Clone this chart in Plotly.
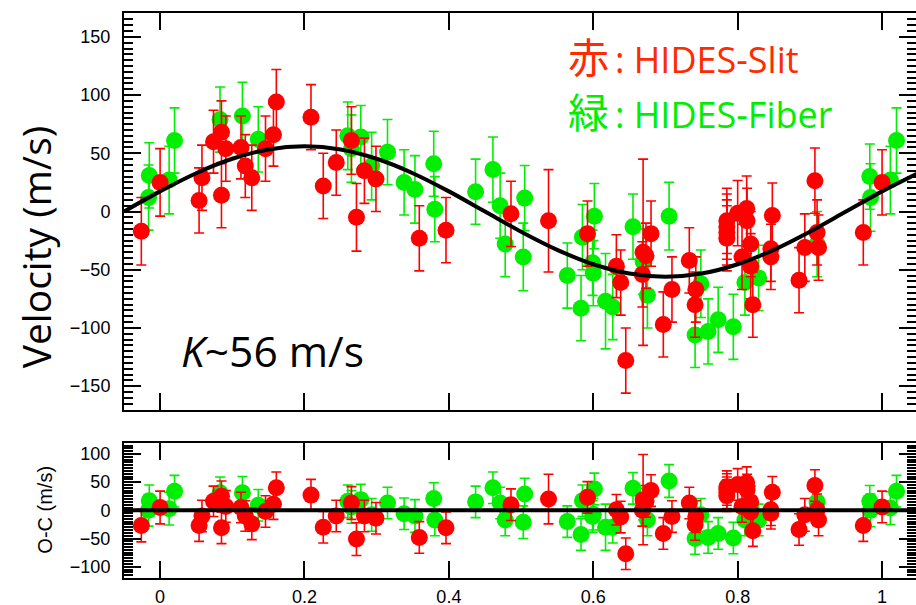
import plotly.graph_objects as go

# ---------------- data ----------------
# HIDES-Slit (red)
red_phase = [-0.026, 0.000, 0.054, 0.058, 0.074, 0.085, 0.085, 0.091, 0.112, 0.118,
             0.127, 0.146, 0.157, 0.161, 0.209, 0.226, 0.244, 0.265, 0.272, 0.283,
             0.299, 0.359, 0.396, 0.486, 0.538, 0.592, 0.632, 0.638, 0.645, 0.669,
             0.673, 0.668, 0.680, 0.697, 0.709, 0.733, 0.742, 0.741, 0.785, 0.785,
             0.785, 0.785, 0.800, 0.8125, 0.813, 0.806, 0.818, 0.818, 0.821, 0.848,
             0.846, 0.846, 0.885, 0.893, 0.907, 0.910, 0.912, 0.974, 1.000]
red_v = [-17, 25, 9.5, 29, 60, 68, 14, 54, 55, 39,
         29, 54, 66, 94, 81, 22, 42, 61, -5, 35,
         28, -23, -16, -2, -8, -19, -47, -61, -128, -35,
         -38, -54, -19, -97, -67, -42, -67, -80, -8, -13,
         -18, -23, -1.4, 2.5, -8, -39, -28, -47, -80, -3.5,
         -32, -39, -59, -31, 26.5, -18, -31, -18, 25]
red_err = [29, 29, 28, 28, 27, 27, 28, 28, 27, 27,
           28, 28, 27, 28, 28, 28, 28, 29, 29, 28,
           28, 28, 28, 28, 44, 28, 27, 28, 28, 80,
           28, 28, 28, 28, 28, 28, 28, 28, 28, 28,
           28, 28, 28, 28, 28, 28, 28, 28, 28, 28,
           28, 28, 28, 29, 28, 28, 28, 28, 28]
red_oc = [-27, 5, -27, -10, 16, 25, -31, 7, 5, -10,
          -24, -2, 11, 40, 27, -30, -10, 13, -51, -10,
          -14, -48, -31, 10, 20, 23, 1, -12, -77, 19,
          16, 0, 35, -41, -11, 13, -11, -25, 42, 37,
          31, 26, 46, 49, 36, 7, 15, -3, -36, 32,
          1, -5, -34, -8, 44, 1, -17, -27, 6]

# HIDES-Fiber (green)
green_phase = [-0.015, -0.016, 0.0125, 0.020, 0.083, 0.114, 0.136, 0.260, 0.278, 0.265,
               0.293, 0.315, 0.338, 0.353, 0.379, 0.3805, 0.437, 0.461, 0.471, 0.478,
               0.505, 0.503, 0.564, 0.583, 0.585, 0.6015, 0.599, 0.600, 0.617, 0.627,
               0.655, 0.675, 0.705, 0.749, 0.741, 0.759, 0.773, 0.794, 0.810, 0.829,
               0.669, 0.910, 0.983, 0.984, 1.0115, 1.020]
green_v = [31, 12, 27, 61, 79, 82, 62, 65, 64, 54,
           39, 51, 25, 19, 41, 2, 17, 36, 5, -28,
           11.5, -39, -55, -83, -22, -4, -44, -53, -77, -82,
           -13, -72, -4, -62, -106, -103, -93, -99, -61, -57,
           -43, -28, 30, 12, 27, 61]
green_err = [28, 28, 29, 28, 28, 29, 28, 29, 27, 29,
             29, 28, 28, 29, 28, 28, 28, 28, 28, 28,
             28, 29, 28, 28, 28, 28, 28, 28, 41, 28,
             28, 28, 29, 29, 28, 28, 28, 28, 28, 28,
             28, 28, 28, 29, 29, 28]
green_oc = [17, 0, 3, 34, 31, 31, 9, 16, 19, 6,
            -8, 13, -6, -10, 21, -17, 15, 40, 13, -17,
            29, -21, -20, -43, 17, 38, -11, -7, -30, -30,
            39, -17, 52, -8, -50, -48, -41, -49, -17, -17,
            11, 15, 16, 0, 4, 34]

# fitted orbit
model_phase = [-0.05, 0.00, 0.05, 0.10, 0.15, 0.20, 0.25, 0.30, 0.35, 0.40, 0.45, 0.50,
               0.55, 0.60, 0.65, 0.70, 0.75, 0.80, 0.85, 0.90, 0.95, 1.00, 1.05]
model_v = [0, 17.3, 32.9, 45.3, 53.3, 56, 53.3, 45.3, 32.9, 17.3, 0, -17.3,
           -32.9, -45.3, -53.3, -56, -53.3, -45.3, -32.9, -17.3, 0, 17.3, 32.9]

x_ticks = [0, 0.2, 0.4, 0.6, 0.8, 1]
x_tick_text = ["0", "0.2", "0.4", "0.6", "0.8", "1"]
y_ticks = [-150, -100, -50, 0, 50, 100, 150]
oc_ticks = [-100, -50, 0, 50, 100]

RED = "#ff0000"
GREEN = "#00ee00"
RED_TXT = "#ff2a00"
GREEN_TXT = "#00ee00"

fig = go.Figure()

def add_series(xs, ys, errs, color, xa, ya):
    fig.add_trace(go.Scatter(
        x=xs, y=ys, mode="markers", xaxis=xa, yaxis=ya,
        marker=dict(color=color, size=17, line=dict(width=0)),
        error_y=dict(type="data", array=errs, visible=True, color=color,
                     thickness=1.6, width=5),
        showlegend=False, hoverinfo="skip"))

# top panel
add_series(green_phase, green_v, green_err, GREEN, "x", "y")
add_series(red_phase, red_v, red_err, RED, "x", "y")
fig.add_trace(go.Scatter(x=model_phase, y=model_v, mode="lines", xaxis="x", yaxis="y",
                         line=dict(color="black", width=4, shape="spline"),
                         showlegend=False, hoverinfo="skip"))
# bottom panel
add_series(green_phase, green_oc, green_err, GREEN, "x2", "y2")
add_series(red_phase, red_oc, red_err, RED, "x2", "y2")

fig.add_shape(type="line", xref="x2 domain", yref="y2", x0=0, x1=1, y0=0, y1=0,
              line=dict(color="black", width=4), layer="above")

TICKFONT = dict(family="Liberation Sans, Arial, sans-serif", size=18, color="black")
common_x = dict(range=[-0.05, 1.047], tickvals=x_ticks, ticktext=x_tick_text,
                ticks="inside", ticklen=17, tickwidth=2, tickcolor="black",
                showline=True, linecolor="black", linewidth=2, mirror="allticks",
                showgrid=False, zeroline=False, tickfont=TICKFONT, automargin=False)
common_y = dict(ticks="inside", ticklen=17, tickwidth=2, tickcolor="black",
                showline=True, linecolor="black", linewidth=2, mirror="allticks",
                showgrid=False, zeroline=False, tickfont=TICKFONT, automargin=False,
                ticklabelstandoff=8,
                minor=dict(ticks="inside", ticklen=9, tickwidth=1.5, tickcolor="black", dtick=5))

fig.update_layout(
    width=916, height=605,
    margin=dict(l=124, r=0, t=13, b=27, autoexpand=False),
    paper_bgcolor="white", plot_bgcolor="white",
    xaxis=dict(domain=[0, 1], anchor="y", showticklabels=False, **common_x),
    yaxis=dict(domain=[0.2973, 1.0], anchor="x", range=[-170.5, 170.5],
               tickvals=y_ticks, **common_y),
    xaxis2=dict(domain=[0, 1], anchor="y2", ticklabelstandoff=1, **common_x),
    yaxis2=dict(domain=[0.0, 0.2395], anchor="x2", range=[-120, 120],
                tickvals=oc_ticks, **common_y),
)

fig.add_annotation(text="Velocity (m/s)", xref="paper", yref="paper",
                   x=-0.1124, y=0.587, xanchor="center", yanchor="middle",
                   textangle=-90, showarrow=False,
                   font=dict(family="Open Sans, sans-serif", size=39, color="black"))
fig.add_annotation(text="O-C (m/s)", xref="paper", yref="paper",
                   x=-0.0997, y=0.121, xanchor="center", yanchor="middle",
                   textangle=-90, showarrow=False,
                   font=dict(family="Liberation Sans, Arial, sans-serif", size=20, color="black"))
fig.add_annotation(text="<i>K</i>~56 m/s", xref="paper", yref="paper",
                   x=0.0694, y=0.4035, xanchor="left", yanchor="middle", showarrow=False,
                   font=dict(family="Open Sans, sans-serif", size=42.5, color="black"))
fig.add_annotation(text="<span style='font-size:41px'>赤</span>\u2009: HIDES-Slit",
                   xref="paper", yref="paper",
                   x=0.5575, y=0.9215, xanchor="left", yanchor="middle", showarrow=False,
                   font=dict(family="Open Sans, Noto Sans CJK JP, sans-serif", size=36, color=RED_TXT))
fig.add_annotation(text="<span style='font-size:41px'>緑</span>\u2009: HIDES-Fiber",
                   xref="paper", yref="paper",
                   x=0.5575, y=0.8255, xanchor="left", yanchor="middle", showarrow=False,
                   font=dict(family="Open Sans, Noto Sans CJK JP, sans-serif", size=36, color=GREEN_TXT))

fig.write_html("out.html", config={"displayModeBar": False},
               post_script="document.body.style.margin='0';document.body.style.overflow='hidden';")
